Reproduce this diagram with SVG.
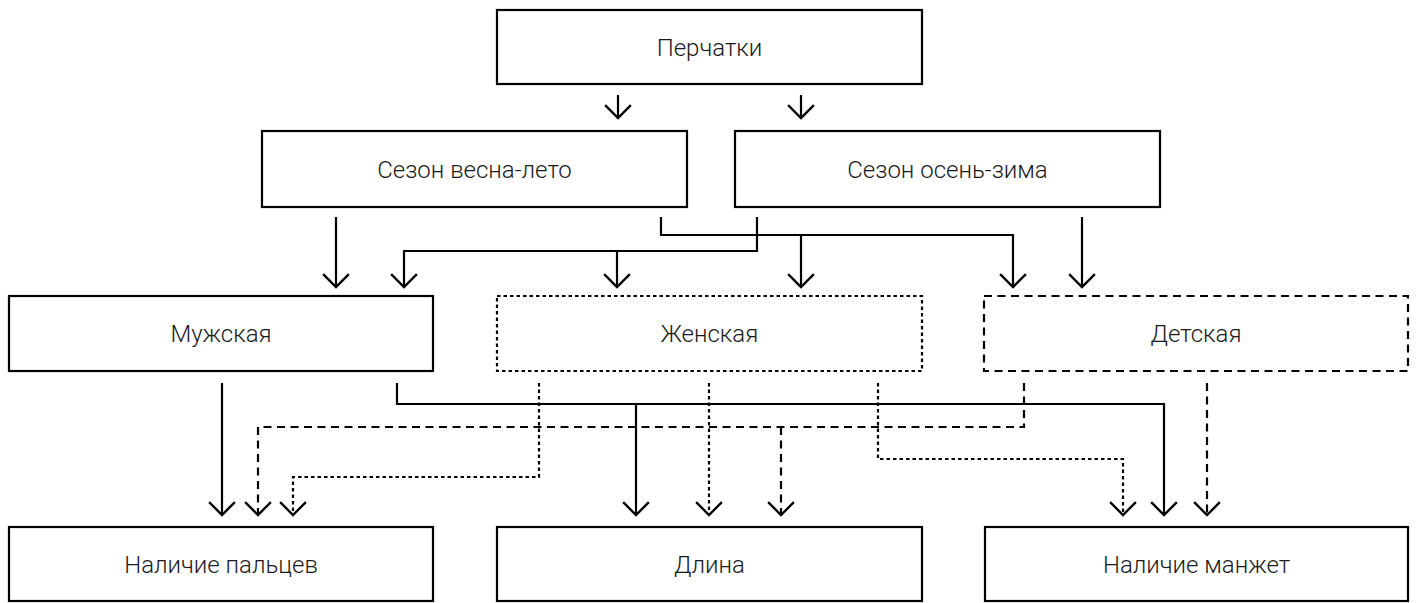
<svg xmlns="http://www.w3.org/2000/svg" width="1421" height="603" viewBox="0 0 1421 603">
<style>
.box{fill:#fff;stroke:#000;stroke-width:2.2}
.dot{stroke-dasharray:3.5 3}
.dash{stroke-dasharray:8 5.5}
.lbl{font-family:Roboto,"Liberation Sans",sans-serif;font-weight:300;font-size:24px;fill:#1a1a1a;text-anchor:middle}
.c{fill:none;stroke:#000;stroke-width:2.2}
</style>
<defs>
<marker id="ah" markerUnits="userSpaceOnUse" markerWidth="30" markerHeight="30" viewBox="-14 -14 28 28" refX="0" refY="0" orient="auto">
<path d="M-12,-12 L0,0 L-12,12" fill="none" stroke="#000" stroke-width="2.2"/>
</marker>
</defs>
<g id="n-perchatki"><rect class="box" x="497" y="10" width="425" height="74"/><text class="lbl" x="709.5" y="55.5">Перчатки</text></g>
<g id="n-vesna"><rect class="box" x="262" y="131" width="425" height="76"/><text class="lbl" x="474.5" y="177.5">Сезон весна-лето</text></g>
<g id="n-osen"><rect class="box" x="735" y="131" width="425" height="76"/><text class="lbl" x="947.5" y="177.5">Сезон осень-зима</text></g>
<g id="n-muzh"><rect class="box" x="9" y="296" width="424" height="75"/><text class="lbl" x="221" y="341.5">Мужская</text></g>
<g id="n-zhen"><rect class="box dot" x="497" y="296" width="425" height="75"/><text class="lbl" x="709.5" y="341.5">Женская</text></g>
<g id="n-det"><rect class="box dash" x="984" y="296" width="424" height="75"/><text class="lbl" x="1196" y="341.5">Детская</text></g>
<g id="n-palcy"><rect class="box" x="9" y="527" width="424" height="74"/><text class="lbl" x="221" y="572.5">Наличие пальцев</text></g>
<g id="n-dlina"><rect class="box" x="497" y="527" width="425" height="74"/><text class="lbl" x="709.5" y="572.5">Длина</text></g>
<g id="n-manzh"><rect class="box" x="985" y="527" width="423" height="74"/><text class="lbl" x="1196.5" y="572.5">Наличие манжет</text></g>
<g id="connectors">
<path class="c" d="M618,95 V118" marker-end="url(#ah)"/>
<path class="c" d="M801,95 V118" marker-end="url(#ah)"/>
<path class="c" d="M336,217 V287" marker-end="url(#ah)"/>
<path class="c" d="M661,217 V235 H1013 V287" marker-end="url(#ah)"/>
<path class="c" d="M801,235 V287" marker-end="url(#ah)"/>
<path class="c" d="M757,217 V251 H404 V287" marker-end="url(#ah)"/>
<path class="c" d="M617,251 V287" marker-end="url(#ah)"/>
<path class="c" d="M1082,217 V287" marker-end="url(#ah)"/>
<path class="c" d="M222,383 V515" marker-end="url(#ah)"/>
<path class="c" d="M397,383 V404 H1164 V515" marker-end="url(#ah)"/>
<path class="c" d="M636,404 V515" marker-end="url(#ah)"/>
<path class="c dot" d="M539,383 V477 H293 V515" marker-end="url(#ah)"/>
<path class="c dot" d="M709,383 V515" marker-end="url(#ah)"/>
<path class="c dot" d="M878,383 V459 H1123 V515" marker-end="url(#ah)"/>
<path class="c dash" d="M1024,383 V427 H258 V515" marker-end="url(#ah)"/>
<path class="c dash" d="M781,427 V515" marker-end="url(#ah)"/>
<path class="c dash" d="M1207,383 V515" marker-end="url(#ah)"/>
</g>
</svg>
